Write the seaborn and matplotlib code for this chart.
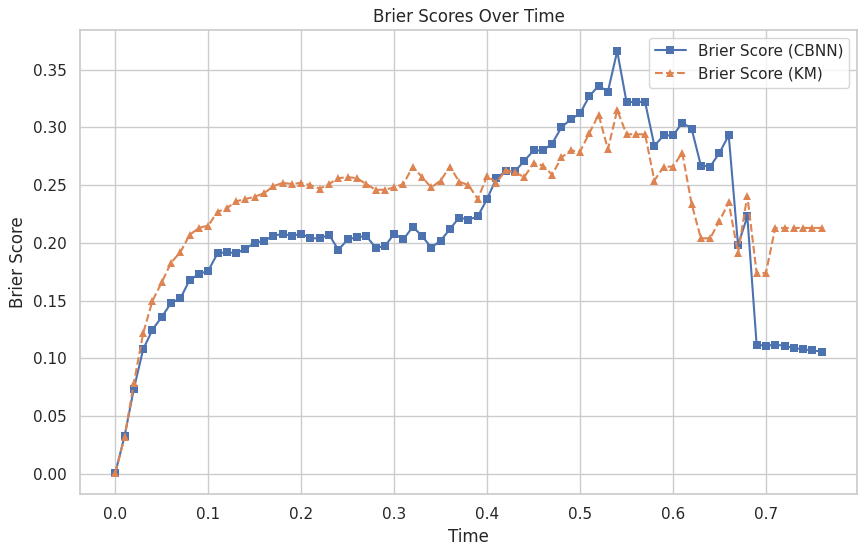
import numpy as np
import pandas as pd
import matplotlib.pyplot as plt
import seaborn as sns

times = np.round(np.arange(0, 0.77, 0.01), 2)

cbnn = [0.001, 0.033, 0.074, 0.108, 0.125, 0.136, 0.148, 0.152, 0.168, 0.173,
        0.176, 0.191, 0.192, 0.191, 0.195, 0.200, 0.202, 0.206, 0.208, 0.206,
        0.208, 0.204, 0.204, 0.207, 0.194, 0.203, 0.205, 0.206, 0.196, 0.197,
        0.208, 0.203, 0.214, 0.206, 0.196, 0.202, 0.212, 0.222, 0.220, 0.223,
        0.238, 0.256, 0.262, 0.262, 0.271, 0.280, 0.280, 0.286, 0.300, 0.307,
        0.312, 0.327, 0.336, 0.331, 0.366, 0.322, 0.322, 0.322, 0.284, 0.293,
        0.293, 0.304, 0.299, 0.267, 0.266, 0.278, 0.293, 0.198, 0.223, 0.112,
        0.111, 0.112, 0.111, 0.109, 0.108, 0.107, 0.106]

km = [0.001, 0.032, 0.079, 0.122, 0.150, 0.166, 0.183, 0.192, 0.207, 0.213,
      0.215, 0.227, 0.230, 0.236, 0.238, 0.240, 0.243, 0.249, 0.252, 0.251,
      0.252, 0.250, 0.247, 0.251, 0.256, 0.257, 0.256, 0.251, 0.246, 0.246,
      0.248, 0.251, 0.266, 0.257, 0.248, 0.254, 0.266, 0.253, 0.250, 0.238,
      0.258, 0.252, 0.263, 0.261, 0.257, 0.269, 0.267, 0.259, 0.274, 0.280,
      0.279, 0.295, 0.311, 0.281, 0.315, 0.294, 0.294, 0.294, 0.254, 0.266,
      0.266, 0.278, 0.234, 0.204, 0.204, 0.219, 0.235, 0.191, 0.241, 0.174,
      0.174, 0.213, 0.213, 0.213, 0.213, 0.213, 0.213]

sns.set_theme(style="whitegrid")

fig = plt.figure(figsize=(8.65, 5.56), dpi=100)
ax = fig.add_axes([80 / 865, 62 / 556, 777 / 865, 464 / 556])

sns.lineplot(x=times, y=cbnn, marker="s", markersize=6, color="#4c72b0",
             markeredgewidth=0, label="Brier Score (CBNN)", ax=ax)
sns.lineplot(x=times, y=km, marker="^", markersize=6, color="#dd8452",
             linestyle="--", markeredgewidth=0, label="Brier Score (KM)", ax=ax)

ax.set_title("Brier Scores Over Time")
ax.set_xlabel("Time")
ax.set_ylabel("Brier Score")
ax.legend(loc="upper right")

fig.savefig("out.png", dpi=100)
